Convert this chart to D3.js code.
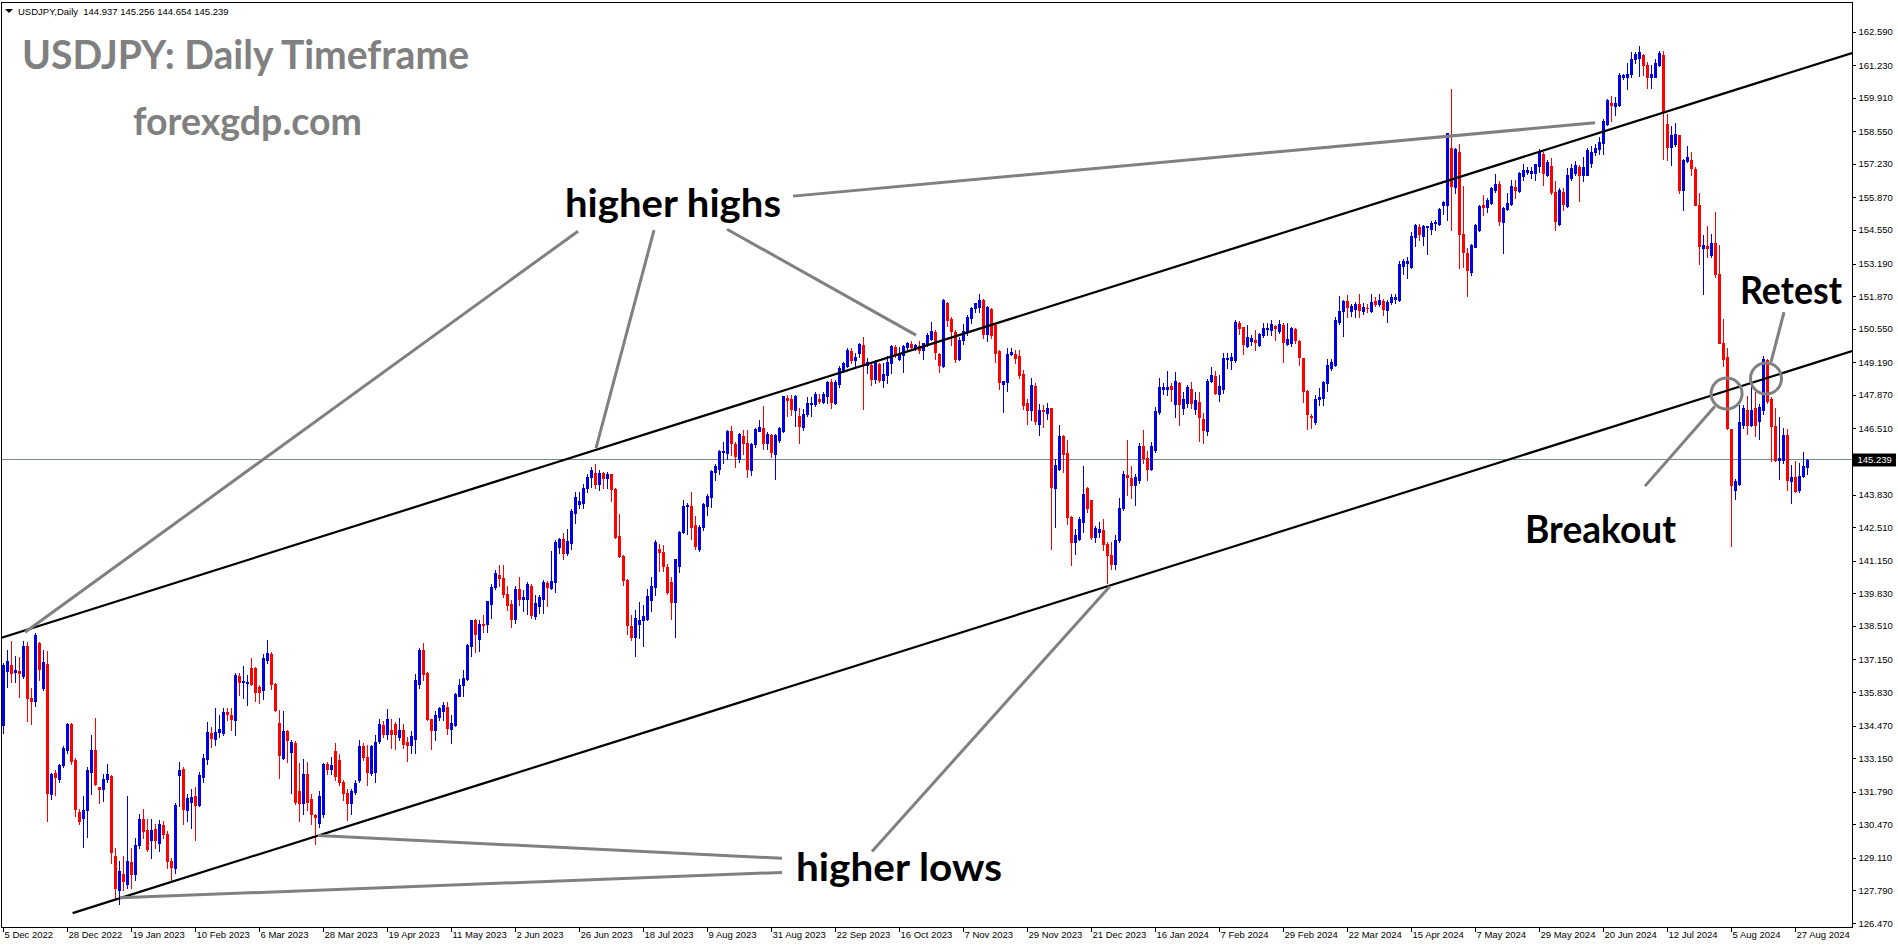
<!DOCTYPE html>
<html><head><meta charset="utf-8">
<script src="https://cdn.jsdelivr.net/npm/d3@7/dist/d3.min.js"></script>
<style>
html,body{margin:0;padding:0;background:#fff;overflow:hidden;}
svg{display:block;}
</style></head><body>
<svg id="chart" width="1898" height="946"></svg>
<script>
// ---------------- DATA ----------------
const symbolHeader = "USDJPY,Daily";
const lastOHLC = [144.937, 145.256, 144.654, 145.239];
const currentPrice = 145.239;
const titleText = "USDJPY: Daily Timeframe";
const siteText = "forexgdp.com";

const dateLabels = ["5 Dec 2022","28 Dec 2022","19 Jan 2023","10 Feb 2023","6 Mar 2023","28 Mar 2023","19 Apr 2023","11 May 2023","2 Jun 2023","26 Jun 2023","18 Jul 2023","9 Aug 2023","31 Aug 2023","22 Sep 2023","16 Oct 2023","7 Nov 2023","29 Nov 2023","21 Dec 2023","16 Jan 2024","7 Feb 2024","29 Feb 2024","22 Mar 2024","15 Apr 2024","7 May 2024","29 May 2024","20 Jun 2024","12 Jul 2024","5 Aug 2024","27 Aug 2024"];
const barsPerDateLabel = 16;

const priceTicks = [162.590,161.230,159.910,158.550,157.230,155.870,154.550,153.190,151.870,150.550,149.190,147.870,146.510,143.830,142.510,141.150,139.830,138.510,137.150,135.830,134.470,133.150,131.790,130.470,129.110,127.790,126.470];

// daily candles [open, high, low, close], 5 Dec 2022 .. 30 Aug 2024
const candles = [
[134.48,137.0,134.17,136.91],[136.68,137.52,136.04,137.08],[136.91,137.9,136.24,136.6],[136.65,137.28,136.24,136.71],[136.7,137.25,135.63,136.6],
[136.47,137.9,136.4,137.68],[137.68,137.86,134.66,135.59],[135.59,136.0,134.52,135.47],[135.47,138.23,135.25,138.15],[137.82,137.86,136.3,136.75],
[136.0,137.52,135.9,137.05],[136.95,137.5,130.6,131.74],[131.71,132.55,131.48,132.52],[132.55,132.66,131.64,132.39],[132.32,132.93,132.18,132.86],
[132.86,133.63,132.79,133.56],[133.47,134.58,133.36,134.52],[134.52,134.58,132.93,133.02],[133.06,133.14,130.81,131.08],[130.98,131.08,130.5,130.6],
[130.72,131.6,129.55,131.04],[131.04,132.79,129.95,132.68],[132.6,134.1,131.7,133.47],[133.47,134.79,132.05,132.09],[131.96,132.0,131.33,131.88],
[131.88,132.52,131.42,132.29],[132.29,132.9,132.2,132.52],[132.41,132.45,128.9,129.35],[129.2,129.5,127.5,127.9],[127.8,129.0,127.25,128.56],
[128.47,129.2,127.8,128.16],[128.06,131.6,127.9,128.97],[128.93,129.5,127.9,128.47],[128.44,129.9,128.2,129.62],[129.62,130.9,129.5,130.68],
[130.68,131.1,129.9,130.2],[130.25,130.7,129.4,129.48],[129.82,130.7,129.1,130.25],[130.28,130.5,129.5,129.82],[129.71,130.65,129.4,130.47],
[130.43,130.6,129.9,130.09],[130.09,130.2,128.7,128.98],[128.98,129.1,128.2,128.74],[128.7,131.35,128.5,131.25],[132.45,133.0,131.2,132.66],
[132.7,132.8,130.5,131.08],[131.04,131.7,130.6,131.54],[131.37,131.9,130.3,131.57],[131.6,132.0,129.85,131.27],[131.24,132.6,131.2,132.45],
[132.39,133.3,132.2,133.15],[133.1,134.6,132.9,134.21],[134.17,134.4,133.6,133.97],[133.94,135.2,133.7,134.21],[134.21,134.9,134.0,134.32],
[134.18,135.2,134.1,135.02],[135.02,135.2,134.7,134.95],[134.9,135.2,134.3,134.73],[134.7,136.6,134.1,136.51],[136.47,136.6,135.7,136.24],
[136.23,136.9,135.6,136.27],[136.2,136.5,135.3,136.24],[136.8,137.2,136.1,136.17],[136.81,136.85,135.45,135.83],[136.03,136.1,135.4,135.83],
[135.9,137.35,135.55,137.21],[137.14,137.95,137.0,137.41],[137.38,137.45,135.95,136.17],[136.17,136.2,135.05,135.09],[134.58,135.1,132.35,133.27],
[133.17,135.05,133.1,134.25],[134.25,134.3,133.0,133.87],[133.4,133.9,131.75,133.8],[133.77,133.85,131.3,131.37],[131.8,132.95,130.6,131.35],
[131.35,133.1,130.9,132.5],[132.5,132.99,131.04,131.38],[131.48,131.7,130.5,130.9],[130.83,130.9,129.68,130.76],[130.52,131.8,130.36,131.6],
[130.9,132.96,130.77,132.93],[132.9,133.0,132.52,132.7],[132.7,133.2,132.52,132.86],[133.43,133.77,132.25,132.42],[133.06,133.3,132.05,132.19],
[132.19,132.25,131.44,131.74],[131.74,131.9,130.66,131.35],[131.35,131.9,130.9,131.81],[131.78,132.25,131.7,132.16],[132.25,133.9,132.19,133.64],
[133.64,133.77,133.06,133.2],[133.2,133.67,132.05,132.59],[132.55,133.7,132.45,133.63],[132.59,134.08,132.19,133.8],[133.85,134.75,133.77,134.55],
[134.51,134.65,134.0,134.14],[134.12,135.16,133.94,134.75],[134.28,134.75,133.56,134.14],[134.52,134.6,133.53,134.14],[134.0,134.79,133.9,134.27],
[134.27,134.52,133.57,133.73],[133.8,134.0,133.03,133.69],[133.69,134.23,133.35,134.04],[133.91,136.57,133.35,136.3],[136.14,137.6,136.0,137.54],
[137.52,137.81,136.3,136.57],[136.6,136.64,134.71,134.75],[134.72,134.75,133.5,134.3],[134.3,135.06,133.9,134.88],[134.81,135.22,134.68,135.18],
[135.06,135.42,134.71,135.29],[135.22,135.42,134.14,134.38],[134.34,134.88,133.76,134.58],[134.48,135.79,134.44,135.76],[135.67,136.37,135.65,136.12],
[136.1,136.71,135.68,136.41],[136.37,137.79,136.33,137.72],[137.68,138.76,137.27,138.73],[138.73,138.77,137.45,138.19],[137.96,138.73,137.48,138.6],
[138.6,138.94,138.26,138.55],[138.57,139.5,138.26,139.5],[139.41,140.22,138.84,140.08],[140.08,140.76,140.02,140.65],[140.58,140.96,140.12,140.45],
[140.45,140.96,139.68,139.79],[139.81,140.12,139.14,139.34],[139.41,139.54,138.46,138.77],[138.77,140.12,138.64,139.99],[139.99,140.49,139.34,139.61],
[139.6,139.95,139.1,139.68],[139.61,140.29,139.0,140.19],[140.11,140.22,138.83,138.96],[138.91,139.75,138.8,139.44],[139.31,139.77,139.03,139.68],
[139.58,140.35,139.03,140.29],[140.25,140.33,139.31,140.08],[140.04,141.53,140.02,140.31],[140.29,141.98,139.88,141.91],[141.71,142.07,141.48,142.02],
[142.02,142.29,141.23,141.48],[141.48,142.42,141.37,141.94],[141.88,143.23,141.61,143.16],[143.08,143.94,142.68,143.71],[143.46,143.94,143.29,143.56],
[143.49,144.27,143.29,144.11],[144.1,144.68,143.94,144.54],[144.52,144.95,144.14,144.81],[144.72,145.08,144.1,144.27],[144.27,144.81,144.0,144.71],
[144.71,144.75,144.1,144.48],[144.48,144.75,144.1,144.68],[144.65,144.68,143.56,144.07],[144.07,144.1,142.07,142.11],[142.14,143.03,141.3,141.34],
[141.34,141.37,140.15,140.38],[140.38,140.42,138.19,138.56],[138.49,138.93,137.95,138.06],[138.06,139.17,137.3,138.84],[138.6,139.48,138.03,138.76],
[138.76,139.34,137.68,138.9],[138.8,140.02,138.76,139.71],[139.54,140.49,139.11,140.11],[140.08,141.98,139.75,141.91],[141.61,141.84,140.73,141.5],
[141.5,141.77,140.73,140.92],[140.9,141.03,139.8,139.88],[140.29,140.49,138.8,139.48],[139.48,141.23,138.06,141.21],[140.92,142.35,140.69,142.31],
[142.31,143.6,142.27,143.35],[143.35,143.49,142.22,143.4],[143.35,143.94,142.04,142.52],[142.58,142.95,141.64,141.73],[141.64,142.58,141.54,142.52],
[142.52,143.49,142.41,143.44],[143.35,143.87,142.99,143.77],[143.73,144.84,143.33,144.77],[144.75,145.08,144.41,144.98],[144.88,145.63,144.68,145.58],
[145.56,145.94,145.11,145.6],[145.52,146.44,145.25,146.4],[146.4,146.6,145.45,145.9],[145.87,145.96,144.95,145.38],[145.25,146.33,145.15,146.27],
[146.19,146.46,145.49,145.9],[145.9,146.44,144.54,144.88],[144.81,145.9,144.64,145.87],[145.87,146.54,145.76,146.48],[146.41,146.84,146.4,146.57],
[146.53,147.41,145.69,145.9],[145.9,146.37,145.69,146.27],[146.23,146.27,145.36,145.56],[145.49,146.3,144.46,146.23],[146.03,146.57,145.96,146.53],
[146.4,147.84,146.37,147.81],[147.75,147.88,147.0,147.65],[147.69,147.88,147.04,147.29],[147.25,147.88,146.6,147.83],[147.0,147.32,145.92,146.61],
[146.57,147.29,146.46,147.11],[147.08,147.79,147.0,147.54],[147.48,147.79,147.0,147.52],[147.49,147.99,147.41,147.92],[147.72,147.92,147.54,147.61],
[147.58,147.99,147.54,147.92],[147.81,148.44,147.52,148.4],[148.4,148.53,147.34,147.58],[147.52,148.46,147.49,148.4],[148.3,149.03,148.19,148.96],
[148.87,149.21,148.8,149.14],[149.03,149.75,149.0,149.68],[149.65,149.75,149.14,149.3],[149.3,149.57,148.94,149.41],[149.57,149.95,149.41,149.92],
[149.88,150.22,147.31,149.07],[149.07,149.38,148.76,149.2],[149.07,149.14,148.26,148.53],[148.53,149.3,148.35,149.24],[149.1,149.14,148.4,148.49],
[148.49,149.16,148.19,148.73],[148.69,149.43,148.33,149.2],[149.14,149.88,148.76,149.84],[149.81,149.88,149.41,149.54],[149.34,149.81,149.27,149.54],
[149.47,149.88,148.8,149.84],[149.81,150.01,149.68,149.95],[149.92,150.04,149.7,149.81],[149.78,149.92,149.7,149.88],[149.84,150.04,149.57,149.68],
[149.68,149.97,149.34,149.95],[149.92,150.38,149.84,150.28],[150.15,150.83,150.08,150.45],[150.42,150.49,149.34,149.61],[149.51,149.57,148.8,149.07],
[149.03,151.77,149.0,151.7],[151.6,151.64,150.65,150.89],[150.96,151.03,149.88,150.46],[150.42,150.49,149.2,149.34],[149.34,150.22,149.3,150.11],
[150.08,150.73,149.92,150.45],[150.42,151.1,150.28,151.03],[150.99,151.43,150.78,151.39],[151.37,151.6,151.23,151.57],[151.43,151.95,151.23,151.73],
[151.73,151.77,150.18,150.35],[150.35,151.46,150.04,151.43],[151.33,151.39,150.18,150.28],[150.69,150.76,149.2,149.57],[149.64,149.68,148.1,148.37],
[148.3,148.43,147.18,148.42],[148.39,149.78,148.03,149.54],[149.54,149.78,149.47,149.61],[149.54,149.7,149.16,149.38],[149.43,149.7,148.57,148.66],
[148.7,148.87,147.31,147.45],[147.54,147.72,146.7,147.24],[147.24,148.55,146.84,148.26],[148.22,148.33,146.7,146.8],[146.68,147.49,146.23,147.24],
[147.27,147.47,146.57,147.22],[147.15,147.54,146.91,147.34],[147.34,147.34,141.64,144.14],[144.1,145.28,142.51,145.01],[144.88,146.66,144.81,146.2],
[146.2,146.23,144.74,145.49],[145.52,146.03,142.65,142.92],[142.92,142.95,140.96,141.91],[141.91,142.45,141.43,142.18],[142.04,142.92,142.0,142.85],
[142.72,144.97,142.31,143.87],[144.11,144.14,143.12,143.3],[143.6,143.62,142.04,142.11],[142.11,142.54,141.91,142.47],[142.3,142.72,142.1,142.42],
[142.38,142.85,141.57,141.84],[141.84,141.9,140.25,141.4],[141.4,141.9,140.8,141.0],[141.0,142.2,140.8,142.0],[142.0,143.7,141.9,143.3],
[143.3,144.8,143.2,144.68],[144.64,146.03,143.8,144.55],[144.48,144.98,143.7,144.2],[144.2,144.68,143.4,144.55],[144.41,145.9,144.3,145.79],
[145.79,146.44,145.09,145.29],[145.29,145.6,144.41,144.88],[144.88,145.96,144.84,145.79],[145.63,147.38,145.56,147.21],[147.18,148.57,147.11,148.2],
[148.09,148.36,147.92,148.2],[148.09,148.83,147.85,148.2],[148.24,148.33,147.63,148.1],[147.49,148.8,146.98,148.42],[148.33,148.4,146.64,147.49],
[147.34,147.99,147.09,147.69],[147.55,148.26,147.38,148.2],[148.1,148.4,147.32,147.52],[147.29,147.99,147.11,147.65],[147.59,147.99,145.99,146.98],
[146.88,147.15,145.92,146.44],[146.41,148.53,146.24,148.42],[148.43,148.98,148.4,148.69],[148.63,148.84,147.92,147.95],[147.92,148.67,147.63,148.24],
[148.1,149.55,147.95,149.37],[149.32,149.55,148.94,149.36],[149.3,149.55,148.91,149.41],[149.28,150.92,149.21,150.82],[150.79,150.86,150.33,150.56],
[150.6,150.63,149.52,149.92],[149.84,150.7,149.8,150.22],[150.06,150.29,149.88,150.18],[150.09,150.49,149.68,150.02],[149.88,150.38,149.84,150.33],
[150.29,150.79,150.22,150.56],[150.52,150.79,150.29,150.56],[150.49,150.9,150.29,150.72],[150.65,150.7,150.09,150.56],[150.45,150.9,150.36,150.72],
[150.7,150.76,149.21,150.02],[149.92,150.79,149.88,150.15],[149.95,150.63,149.84,150.59],[150.53,150.59,149.95,150.09],[150.06,150.09,149.07,149.41],
[149.37,149.38,147.59,148.02],[148.02,148.06,146.48,147.09],[147.02,147.11,146.51,146.98],[146.75,147.86,146.67,147.69],[147.69,148.13,147.45,147.79],
[147.76,148.44,147.45,148.37],[148.33,149.34,148.02,149.07],[148.94,149.34,148.87,149.18],[149.07,151.03,149.03,150.9],[150.82,151.86,150.75,151.27],
[151.27,151.7,150.24,151.67],[151.67,151.9,151.03,151.43],[151.27,151.56,151.05,151.46],[151.36,151.63,151.03,151.56],[151.54,151.97,151.03,151.32],
[151.27,151.59,151.13,151.43],[151.4,151.53,151.23,151.37],[151.27,151.97,151.23,151.63],[151.67,151.84,151.46,151.54],[151.56,151.97,151.46,151.7],
[151.67,151.77,151.09,151.34],[151.3,151.7,150.82,151.63],[151.63,151.97,151.56,151.84],[151.76,151.97,151.59,151.82],[151.7,153.28,151.67,153.16],
[153.09,153.39,152.78,153.28],[153.23,153.46,152.61,153.28],[153.05,154.47,153.02,154.3],[154.27,154.81,153.89,154.77],[154.67,154.78,154.13,154.38],
[154.3,154.77,153.93,154.7],[154.67,154.72,153.59,154.71],[154.58,154.92,154.4,154.85],[154.84,154.94,154.54,154.88],[154.78,155.42,154.74,155.38],
[155.55,155.71,155.21,155.69],[155.55,158.48,154.94,158.46],[157.85,160.25,154.54,156.32],[156.3,157.85,156.05,157.81],[157.71,158.02,153.01,154.4],
[154.4,156.32,153.05,153.66],[153.62,153.8,151.88,152.92],[152.85,154.0,152.72,153.93],[153.86,154.81,153.84,154.74],[154.54,155.55,154.51,155.51],
[155.55,155.97,155.15,155.48],[155.48,155.86,155.28,155.78],[155.65,156.3,155.62,156.23],[156.16,156.8,156.09,156.43],[156.4,156.54,154.74,154.92],
[154.88,155.49,153.62,155.42],[155.4,156.05,155.35,155.65],[155.59,156.57,155.55,156.32],[156.3,156.57,155.86,156.16],[156.12,156.9,156.09,156.84],
[156.73,157.22,156.57,156.97],[156.9,157.11,156.8,156.99],[156.86,157.08,156.67,156.93],[156.86,157.24,156.59,157.21],[157.13,157.81,156.9,157.75],
[157.62,157.71,156.36,156.84],[156.77,157.38,156.73,157.31],[157.13,157.48,155.99,156.09],[156.09,156.54,154.54,154.92],[154.81,156.23,154.74,156.16],
[156.09,156.23,155.35,155.59],[155.51,157.07,155.49,156.77],[156.66,157.22,156.57,157.07],[156.87,157.35,156.76,157.2],[157.08,157.2,155.73,156.76],
[156.76,157.49,156.54,157.08],[156.79,157.86,156.76,157.79],[157.27,157.96,157.12,157.71],[157.69,158.05,157.57,157.86],[157.82,158.3,157.64,158.13],
[158.08,159.04,157.64,158.97],[158.85,159.85,158.82,159.81],[159.7,159.97,158.97,159.63],[159.56,159.92,159.19,159.7],[159.63,160.91,159.58,160.81],
[160.73,160.88,160.66,160.81],[160.73,161.32,160.26,160.88],[160.88,161.74,160.73,161.47],[161.47,161.77,161.32,161.69],[161.5,161.99,160.78,161.74],
[161.65,161.69,160.81,161.25],[161.25,161.35,160.32,160.76],[160.76,161.25,160.29,160.88],[160.76,161.47,160.73,161.3],[161.25,161.81,161.21,161.72],
[161.65,161.8,157.42,159.33],[158.85,159.26,157.38,157.9],[157.93,158.75,157.2,158.41],[158.04,158.89,157.96,158.45],[158.38,158.38,156.05,156.17],
[156.17,157.42,155.36,157.38],[157.35,157.94,157.32,157.52],[157.38,157.71,156.76,157.05],[157.02,157.08,155.55,155.58],[155.58,156.05,153.15,153.88],
[153.81,154.33,151.97,153.96],[153.91,154.69,153.44,153.81],[153.52,154.4,153.44,154.03],[154.03,155.28,152.66,152.78],[152.75,153.93,149.95,149.98],
[149.98,150.94,149.02,149.32],[149.39,149.76,146.47,146.52],[146.49,146.49,141.73,144.2],[144.01,144.45,143.64,144.38],[144.26,147.47,144.23,146.77],
[146.66,147.45,146.52,147.33],[147.25,147.84,146.3,146.66],[146.66,148.5,146.59,147.25],[147.33,148.0,146.22,146.66],[146.81,147.48,146.07,147.36],
[147.25,149.46,147.11,149.32],[149.27,149.32,147.55,147.62],[147.7,147.77,145.19,146.62],[146.62,147.33,145.19,145.23],[145.22,146.96,144.45,145.29],
[145.23,146.51,145.12,146.25],[146.25,146.47,144.0,144.41],[144.38,145.04,143.5,144.56],[144.53,145.19,143.94,143.97],[144.01,145.11,143.94,144.6],
[144.6,145.56,144.53,144.97],[144.937,145.256,144.654,145.239]
];

// channel lines, [bar index, price]
const upperChannel = [[-0.75, 138.01], [462.25, 161.72]];
const lowerChannel = [[17.4, 126.87], [462.25, 149.64]];

// gray pointer lines, [bar, price] -> [bar, price]
const pointerLines = [
  [[5.5,138.25],[143.75,154.50]],
  [[148.25,145.71],[162.75,154.54]],
  [[228.25,150.29],[181.0,154.58]],
  [[398.0,158.89],[197.5,155.92]],
  [[78.75,130.02],[194.75,129.09]],
  [[29.25,127.49],[194.75,128.52]],
  [[276.75,140.11],[217.25,129.37]],
  [[428.0,147.41],[410.5,144.17]],
  [[442.0,149.19],[445.25,151.22]]
];
const markCircles = [[430.9,147.92],[440.75,148.53]];

const labels = [
  {text:"higher highs", x:565, y:217, w:216},
  {text:"higher lows",  x:796, y:881, w:206},
  {text:"Breakout",     x:1525, y:543, w:151},
  {text:"Retest",       x:1740, y:304, w:102}
];

// ---------------- DRAW ----------------
const W = 1898, H = 946;
const plot = {left: 1.5, top: 2.5, right: 1852.5, bottom: 927.5};
const svg = d3.select("#chart");
const UP = "#0000e6", DN = "#ff0000";
const axisFont = "'Liberation Sans', Arial, sans-serif";

const x = d3.scaleLinear().domain([0, 448]).range([3, 1795]);
const y = d3.scaleLinear().domain([126.47, 162.59]).range([923, 31.5]);

svg.append("rect").attr("width", W).attr("height", H).attr("fill", "#fff");

svg.append("defs").append("clipPath").attr("id", "clip")
  .append("rect").attr("x", plot.left + 0.5).attr("y", plot.top + 0.5)
  .attr("width", plot.right - plot.left - 1).attr("height", plot.bottom - plot.top - 1);

const g = svg.append("g").attr("clip-path", "url(#clip)");

// current price line
g.append("line")
  .attr("x1", plot.left).attr("x2", plot.right)
  .attr("y1", Math.floor(y(currentPrice)) + 0.5).attr("y2", Math.floor(y(currentPrice)) + 0.5)
  .attr("stroke", "#778899").attr("stroke-width", 1);

// candles
const cg = g.append("g").attr("shape-rendering", "crispEdges");
const cands = cg.selectAll("g.c").data(candles).join("g").attr("class", "c");
cands.each(function(d, i) {
  const [o, h0, l0, c] = d;
  const h = Math.max(h0, o, c), l = Math.min(l0, o, c);
  const col = c >= o ? UP : DN;
  const cx = Math.round(x(i));
  const sel = d3.select(this);
  sel.append("line")
    .attr("x1", cx + 0.5).attr("x2", cx + 0.5)
    .attr("y1", Math.round(y(h))).attr("y2", Math.round(y(l)) + 1)
    .attr("stroke", col).attr("stroke-width", 1);
  const yt = Math.round(y(Math.max(o, c))), yb = Math.round(y(Math.min(o, c)));
  sel.append("rect")
    .attr("x", cx - 1).attr("width", 3)
    .attr("y", yt).attr("height", Math.max(1, yb - yt + 1))
    .attr("fill", col);
});

// channel lines
const lineGen = d3.line().x(d => x(d[0])).y(d => y(d[1]));
[upperChannel, lowerChannel].forEach(seg => {
  g.append("path").attr("d", lineGen(seg)).attr("fill", "none")
    .attr("stroke", "#000").attr("stroke-width", 2.2);
});

// pointer lines and circles
pointerLines.forEach(seg => {
  g.append("path").attr("d", lineGen(seg)).attr("fill", "none")
    .attr("stroke", "#808080").attr("stroke-width", 3);
});
markCircles.forEach(p => {
  g.append("circle").attr("cx", x(p[0])).attr("cy", y(p[1])).attr("r", 15.5)
    .attr("fill", "none").attr("stroke", "#808080").attr("stroke-width", 3);
});

// annotation text
const tfont = "Lato, 'Open Sans', sans-serif";
labels.forEach(L => {
  svg.append("text").attr("x", L.x).attr("y", L.y).text(L.text)
    .attr("font-family", tfont).attr("font-weight", 700).attr("font-size", 39)
    .attr("fill", "#000").attr("textLength", L.w).attr("lengthAdjust", "spacingAndGlyphs");
});

// title + site
svg.append("text").attr("x", 22).attr("y", 69).text(titleText)
  .attr("font-family", tfont).attr("font-weight", 700).attr("font-size", 40)
  .attr("fill", "#808080").attr("textLength", 447).attr("lengthAdjust", "spacingAndGlyphs");
svg.append("text").attr("x", 133).attr("y", 135).text(siteText)
  .attr("font-family", tfont).attr("font-weight", 700).attr("font-size", 39)
  .attr("fill", "#808080").attr("textLength", 229).attr("lengthAdjust", "spacingAndGlyphs");

// header
svg.append("path").attr("d", "M5,9 L13,9 L9,13 Z").attr("fill", "#000");
svg.append("text").attr("x", 18).attr("y", 14.5)
  .attr("font-family", axisFont).attr("font-size", 9.5).attr("fill", "#000")
  .style("white-space", "pre")
  .text(symbolHeader + "  " + lastOHLC.map(v => v.toFixed(3)).join(" "));

// frame
svg.append("rect").attr("x", plot.left).attr("y", plot.top)
  .attr("width", plot.right - plot.left).attr("height", plot.bottom - plot.top)
  .attr("fill", "none").attr("stroke", "#000").attr("stroke-width", 1)
  .attr("shape-rendering", "crispEdges");

// right price axis
const yAxis = d3.axisRight(y).tickValues(priceTicks).tickFormat(d3.format(".3f")).tickSize(3).tickPadding(3);
const ya = svg.append("g").attr("transform", `translate(${plot.right},0)`).call(yAxis);
ya.select(".domain").remove();
ya.selectAll("text").attr("font-family", axisFont).attr("font-size", 9.5).attr("fill", "#000");
ya.selectAll("line").attr("stroke", "#000").attr("shape-rendering", "crispEdges");

// current price box
const cpY = y(currentPrice);
svg.append("rect").attr("x", plot.right + 0.5).attr("y", Math.round(cpY) - 6.5)
  .attr("width", 43).attr("height", 13).attr("fill", "#000");
svg.append("text").attr("x", plot.right + 5).attr("y", cpY).attr("dy", "0.35em")
  .attr("font-family", axisFont).attr("font-size", 9.5).attr("fill", "#fff")
  .text(currentPrice.toFixed(3));

// bottom date axis
const dateTicks = dateLabels.map((_, k) => k * barsPerDateLabel);
const xAxis = d3.axisBottom(x).tickValues(dateTicks).tickFormat((d, k) => dateLabels[k]).tickSize(4).tickPadding(2);
const xa = svg.append("g").attr("transform", `translate(0,${plot.bottom})`).call(xAxis);
xa.select(".domain").remove();
xa.selectAll(".tick line").attr("stroke", "#000").attr("shape-rendering", "crispEdges");
xa.selectAll("text").attr("font-family", axisFont).attr("font-size", 9.5).attr("fill", "#000")
  .attr("text-anchor", "start").attr("x", 1).attr("y", 4).attr("dy", "0.71em");
</script>
</body></html>
